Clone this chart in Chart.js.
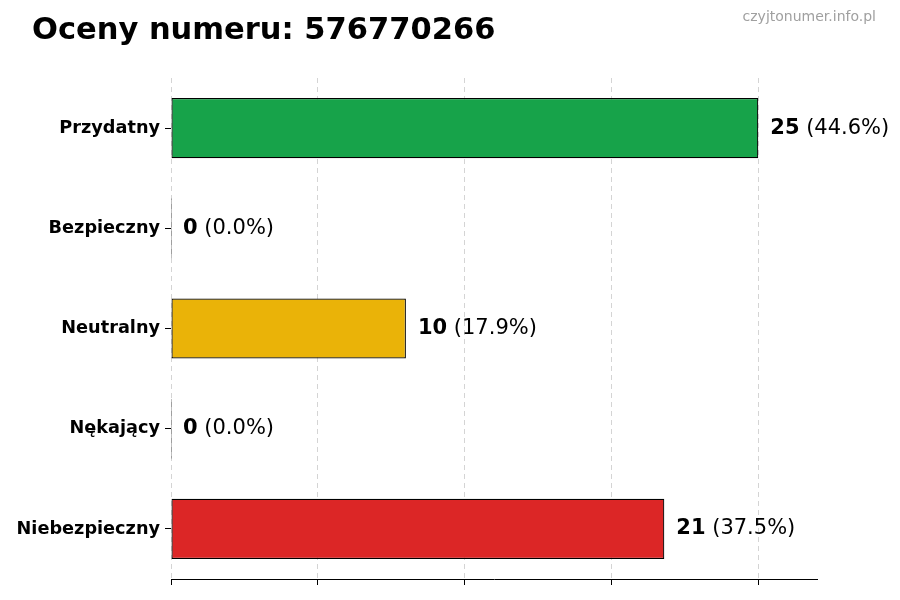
<!DOCTYPE html>
<html>
<head>
<meta charset="utf-8">
<script src="https://cdn.jsdelivr.net/npm/chart.js@4/dist/chart.umd.min.js"></script>
<style>
  html, body { margin: 0; padding: 0; background: #fff; }
  #wrap { width: 900px; height: 600px; position: relative; }
</style>
</head>
<body>
<div id="wrap"><canvas id="myChart" width="900" height="600"></canvas></div>
<script>
const titleText = 'Oceny numeru: 576770266';
const siteText = 'czyjtonumer.info.pl';
const categories = ['Przydatny', 'Bezpieczny', 'Neutralny', 'Nękający', 'Niebezpieczny'];
const counts = [25, 0, 10, 0, 21];
const barColors = ['#17a34a', '#9ca3af', '#eab308', '#f97316', '#dc2626'];
const xTicks = [0, 6.25, 12.5, 18.75, 25];
const xMax = 27.5;

const total = counts.reduce((a, b) => a + b, 0);
const FONT = '"DejaVu Sans", sans-serif';

// title + watermark
const headerPlugin = {
    id: 'header',
    afterDraw(chart) {
        const c = chart.ctx;
        c.save();
        c.fillStyle = '#000';
        c.font = 'bold 30.5px ' + FONT;
        c.textBaseline = 'middle';
        c.textAlign = 'left';
        c.fillText(titleText, 32, 31);
        c.fillStyle = '#a0a0a0';
        c.font = '14px ' + FONT;
        c.textAlign = 'right';
        c.fillText(siteText, 876, 17);
        c.restore();
    }
};

// "25 (44.6%)" after each bar
const valuePlugin = {
    id: 'values',
    afterDatasetsDraw(chart) {
        const c = chart.ctx;
        const meta = chart.getDatasetMeta(0);
        c.save();
        c.textBaseline = 'middle';
        c.textAlign = 'left';
        c.fillStyle = '#000';
        meta.data.forEach((bar, i) => {
            const v = counts[i];
            const pct = ' (' + (total ? v / total * 100 : 0).toFixed(1) + '%)';
            const x0 = chart.scales.x.getPixelForValue(v) + 12;
            c.font = 'bold 21px ' + FONT;
            c.fillText(String(v), x0, bar.y);
            const w = c.measureText(String(v)).width;
            c.font = '21px ' + FONT;
            c.fillText(pct, x0 + w, bar.y);
        });
        c.restore();
    }
};

const ctx = document.getElementById('myChart');

let chart = new Chart(ctx, {
    type: 'bar',
    data: {
        labels: categories,
        datasets: [{
            data: counts,
            backgroundColor: barColors,
            borderColor: '#000',
            borderWidth: 1.2,
            borderSkipped: false,
            barPercentage: 0.6,
            categoryPercentage: 1.0,
            minBarLength: 1
        }]
    },
    options: {
        indexAxis: 'y',
        responsive: false,
        animation: false,
        devicePixelRatio: 1,
        layout: { padding: { top: 78, right: 83, bottom: 0, left: 0 } },
        plugins: {
            legend: { display: false },
            tooltip: { enabled: false }
        },
        scales: {
            x: {
                min: 0,
                max: xMax,
                afterBuildTicks: (s) => { s.ticks = xTicks.map(v => ({ value: v })); },
                afterFit: (s) => { s.height = 21; },
                ticks: { display: false },
                grid: {
                    color: '#d4d4d4',
                    lineWidth: 1,
                    tickColor: '#000',
                    tickLength: 6,
                    tickWidth: 1
                },
                border: { display: true, color: '#000', width: 1, dash: [5, 4] }
            },
            y: {
                afterFit: (s) => { s.width = 171; },
                ticks: {
                    color: '#000',
                    padding: 5,
                    font: { family: FONT, size: 17.7, weight: 'bold' }
                },
                grid: {
                    offset: false,
                    drawOnChartArea: false,
                    tickColor: '#000',
                    tickLength: 6
                },
                border: { display: false }
            }
        }
    },
    plugins: [headerPlugin, valuePlugin]
});
</script>
</body>
</html>
